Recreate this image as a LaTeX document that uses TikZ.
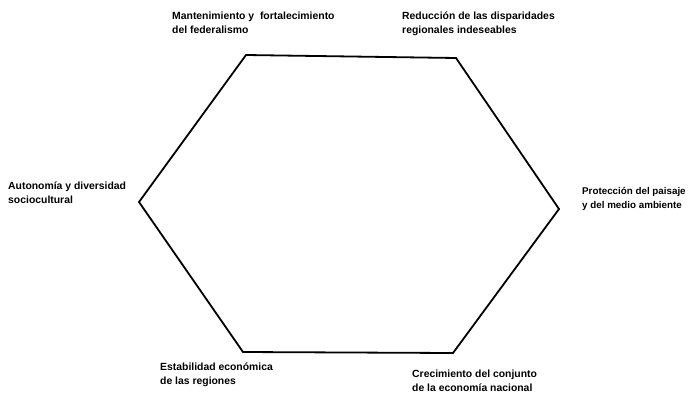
\documentclass[tikz,border=0pt]{standalone}
\usepackage{fontspec}
\setmainfont{Liberation Sans}
\usepackage{tikz}

\begin{document}
\begin{tikzpicture}[x=1pt, y=-1pt]
% --- Global Styles ---
\tikzstyle{edge} = [line width=1.8pt, line join=miter]
\tikzstyle{goal} = [anchor=base west, inner sep=0pt, align=left,
  font=\fontsize{10.4}{13.8}\selectfont\bfseries]

% --- Canvas ---
\useasboundingbox (0,0) rectangle (690,394);

% ==========================================
% Hexagon corners
% ==========================================
\coordinate (tl) at (246,55);
\coordinate (tr) at (456,58);
\coordinate (r)  at (559,209);
\coordinate (br) at (453,353);
\coordinate (bl) at (243,352);
\coordinate (l)  at (139,202);

\draw[edge] (tl) -- (tr) -- (r) -- (br) -- (bl) -- (l) -- cycle;

% ==========================================
% Goals at the corners (base = last line)
% ==========================================
\node[goal] (federal) at (172,33)  {Mantenimiento y\ \ fortalecimiento\\del federalismo};
\node[goal] (dispar)  at (402,33)  {Reducción de las disparidades\\regionales indeseables};
\node[goal, font=\fontsize{9.8}{13.8}\selectfont\bfseries]
            (paisaje) at (582,208) {Protección del paisaje\\y del medio ambiente};
\node[goal] (crecim)  at (412,391) {Crecimiento del conjunto\\de la economía nacional};
\node[goal] (estab)   at (160,384) {Estabilidad económica\\de las regiones};
\node[goal] (autonom) at (8,203)   {Autonomía y diversidad\\sociocultural};

\end{tikzpicture}
\end{document}
